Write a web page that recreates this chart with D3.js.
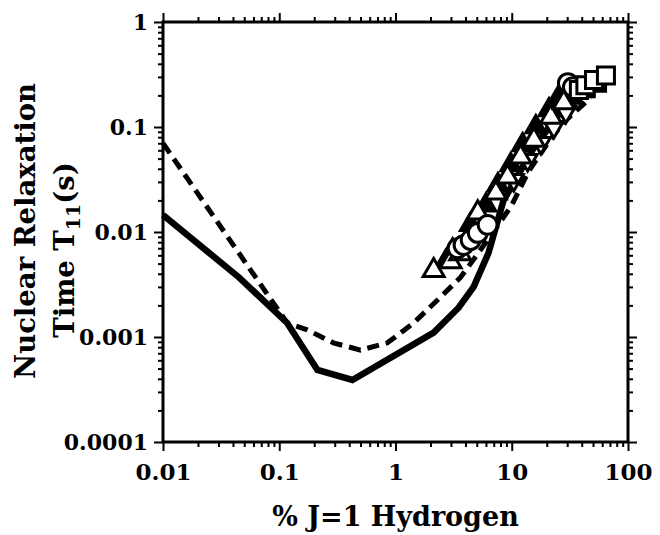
<!DOCTYPE html>
<html>
<head>
<meta charset="utf-8">
<script src="https://cdn.jsdelivr.net/npm/d3@7"></script>
<style>
  body { margin: 0; background: #fff; }
  text { font-family: "DejaVu Serif", serif; font-weight: bold; fill: #000; }
</style>
</head>
<body>
<div id="chart"></div>
<script>
// model curves
const solidX = [0.01, 0.045, 0.117, 0.213, 0.426, 2.13, 3.49, 4.7, 6.3, 8.5, 15, 25, 45];
const solidY = [0.0145, 0.0037, 0.00136, 0.000485, 0.00039, 0.0011, 0.0019, 0.003, 0.0063, 0.02, 0.06, 0.13, 0.22];
const dashX = [0.01, 0.117, 0.174, 0.292, 0.5, 0.853, 1.43, 2.44, 3.63, 6.5, 10, 14, 20, 27.5, 47.6];
const dashY = [0.07, 0.00136, 0.00117, 0.00088, 0.00075, 0.00088, 0.00136, 0.0024, 0.0037, 0.009, 0.018, 0.038, 0.068, 0.109, 0.19];

// measured points
const fillTriX = [2.7, 3.1, 4.4, 6.0, 7.6, 9.8, 12.4, 16.1, 20.9, 25.4];
const fillTriY = [0.0052, 0.0067, 0.0117, 0.018, 0.028, 0.0435, 0.0674, 0.1, 0.145, 0.193];
const triUpX = [2.13, 2.98, 3.6, 5.1, 7.3, 9.2, 11.9, 15.5, 21.7, 28];
const triUpY = [0.0043, 0.0052, 0.0062, 0.0152, 0.0235, 0.0334, 0.0518, 0.075, 0.124, 0.17];
const triDownX = [10.4, 13.7, 17.8, 23, 29.2];
const triDownY = [0.0313, 0.0485, 0.0704, 0.1, 0.139];
const fillCircX = [3.3, 3.7, 4.2];
const fillCircY = [0.0066, 0.0072, 0.008];
const circX = [3.42, 3.85, 4.43, 5.1, 6.2, 30.4, 33.6];
const circY = [0.007, 0.0075, 0.0084, 0.0098, 0.0117, 0.262, 0.24];
const fillSqX = [34, 44, 55];
const fillSqY = [0.2, 0.23, 0.26];
const sqX = [37.8, 43, 51, 64.6];
const sqY = [0.225, 0.25, 0.28, 0.31];

const xTicks = [0.01, 0.1, 1, 10, 100];
const xTickLabels = ["0.01", "0.1", "1", "10", "100"];
const yTicks = [0.0001, 0.001, 0.01, 0.1, 1];
const yTickLabels = ["0.0001", "0.001", "0.01", "0.1", "1"];

const width = 660, height = 535;
const margin = {top: 22, right: 32, bottom: 93, left: 163};
const w = width - margin.left - margin.right;
const h = height - margin.top - margin.bottom;

const svg = d3.select("#chart").append("svg")
    .attr("width", width)
    .attr("height", height);

const g = svg.append("g")
    .attr("transform", `translate(${margin.left},${margin.top})`);

const x = d3.scaleLog().domain([0.01, 100]).range([0, w]);
const y = d3.scaleLog().domain([0.0001, 1]).range([h, 0]);

const zip = (xs, ys) => xs.map((v, i) => [v, ys[i]]);

// minor ticks
const minorX = x.ticks().filter(v => !xTicks.includes(v));
const minorY = y.ticks().filter(v => !yTicks.includes(v));

function styleAxis(sel) {
    sel.select(".domain").remove();
    sel.selectAll(".tick line").attr("stroke", "#000").attr("stroke-width", 2);
}

g.append("g").attr("transform", `translate(0,${h})`)
    .call(d3.axisBottom(x).tickValues(minorX).tickSize(5).tickFormat(""))
    .call(styleAxis);
g.append("g")
    .call(d3.axisTop(x).tickValues(minorX).tickSize(5).tickFormat(""))
    .call(styleAxis);
g.append("g")
    .call(d3.axisLeft(y).tickValues(minorY).tickSize(5).tickFormat(""))
    .call(styleAxis);
g.append("g").attr("transform", `translate(${w},0)`)
    .call(d3.axisRight(y).tickValues(minorY).tickSize(5).tickFormat(""))
    .call(styleAxis);

const xAxis = g.append("g").attr("transform", `translate(0,${h})`)
    .call(d3.axisBottom(x).tickValues(xTicks).tickSize(9).tickPadding(12)
        .tickFormat((d, i) => xTickLabels[i]))
    .call(styleAxis);
xAxis.selectAll("text").attr("font-size", 23).attr("dy", "0.75em");
g.append("g")
    .call(d3.axisTop(x).tickValues(xTicks).tickSize(9).tickFormat(""))
    .call(styleAxis);
const yAxis = g.append("g")
    .call(d3.axisLeft(y).tickValues(yTicks).tickSize(9).tickPadding(6)
        .tickFormat((d, i) => yTickLabels[i]))
    .call(styleAxis);
yAxis.selectAll("text").attr("font-size", 22).attr("dy", "0.35em");
g.append("g").attr("transform", `translate(${w},0)`)
    .call(d3.axisRight(y).tickValues(yTicks).tickSize(9).tickFormat(""))
    .call(styleAxis);

// frame
g.append("rect")
    .attr("width", w).attr("height", h)
    .attr("fill", "none").attr("stroke", "#000").attr("stroke-width", 3);

const line = d3.line().x(d => x(d[0])).y(d => y(d[1]));

g.append("path")
    .datum(zip(dashX, dashY))
    .attr("d", line)
    .attr("fill", "none").attr("stroke", "#000")
    .attr("stroke-width", 5)
    .attr("stroke-dasharray", "12,7");

g.append("path")
    .datum(zip(solidX, solidY))
    .attr("d", line)
    .attr("fill", "none").attr("stroke", "#000")
    .attr("stroke-width", 6.5)
    .attr("stroke-linejoin", "miter");

function drawPoints(xs, ys, type, size, fill, rot) {
    g.append("g").selectAll("path")
        .data(zip(xs, ys))
        .join("path")
        .attr("d", d3.symbol().type(type).size(size))
        .attr("transform", d => `translate(${x(d[0])},${y(d[1])}) rotate(${rot || 0})`)
        .attr("fill", fill)
        .attr("stroke", "#000")
        .attr("stroke-width", 3);
}

drawPoints(fillTriX, fillTriY, d3.symbolTriangle, 170, "#000");
drawPoints(fillCircX, fillCircY, d3.symbolCircle, 220, "#000");
drawPoints(fillSqX, fillSqY, d3.symbolSquare, 240, "#000");
drawPoints(triDownX, triDownY, d3.symbolTriangle, 160, "#fff", 180);
drawPoints(triUpX, triUpY, d3.symbolTriangle, 190, "#fff");
drawPoints(circX, circY, d3.symbolCircle, 280, "#fff");
drawPoints(sqX, sqY, d3.symbolSquare, 290, "#fff");

// axis titles
svg.append("text")
    .attr("x", margin.left + w / 2)
    .attr("y", 526)
    .attr("text-anchor", "middle")
    .attr("font-size", 27)
    .text("% J=1 Hydrogen");

svg.append("text")
    .attr("transform", `translate(35,231) rotate(-90)`)
    .attr("text-anchor", "middle")
    .attr("font-size", 27.5)
    .text("Nuclear Relaxation");

const t2 = svg.append("text")
    .attr("transform", `translate(74,250) rotate(-90)`)
    .attr("text-anchor", "middle")
    .attr("font-size", 27.5);
t2.append("tspan").text("Time T");
t2.append("tspan").attr("font-size", 19).attr("dy", 6).text("11");
t2.append("tspan").attr("dy", -6).text("(s)");
</script>
</body>
</html>
